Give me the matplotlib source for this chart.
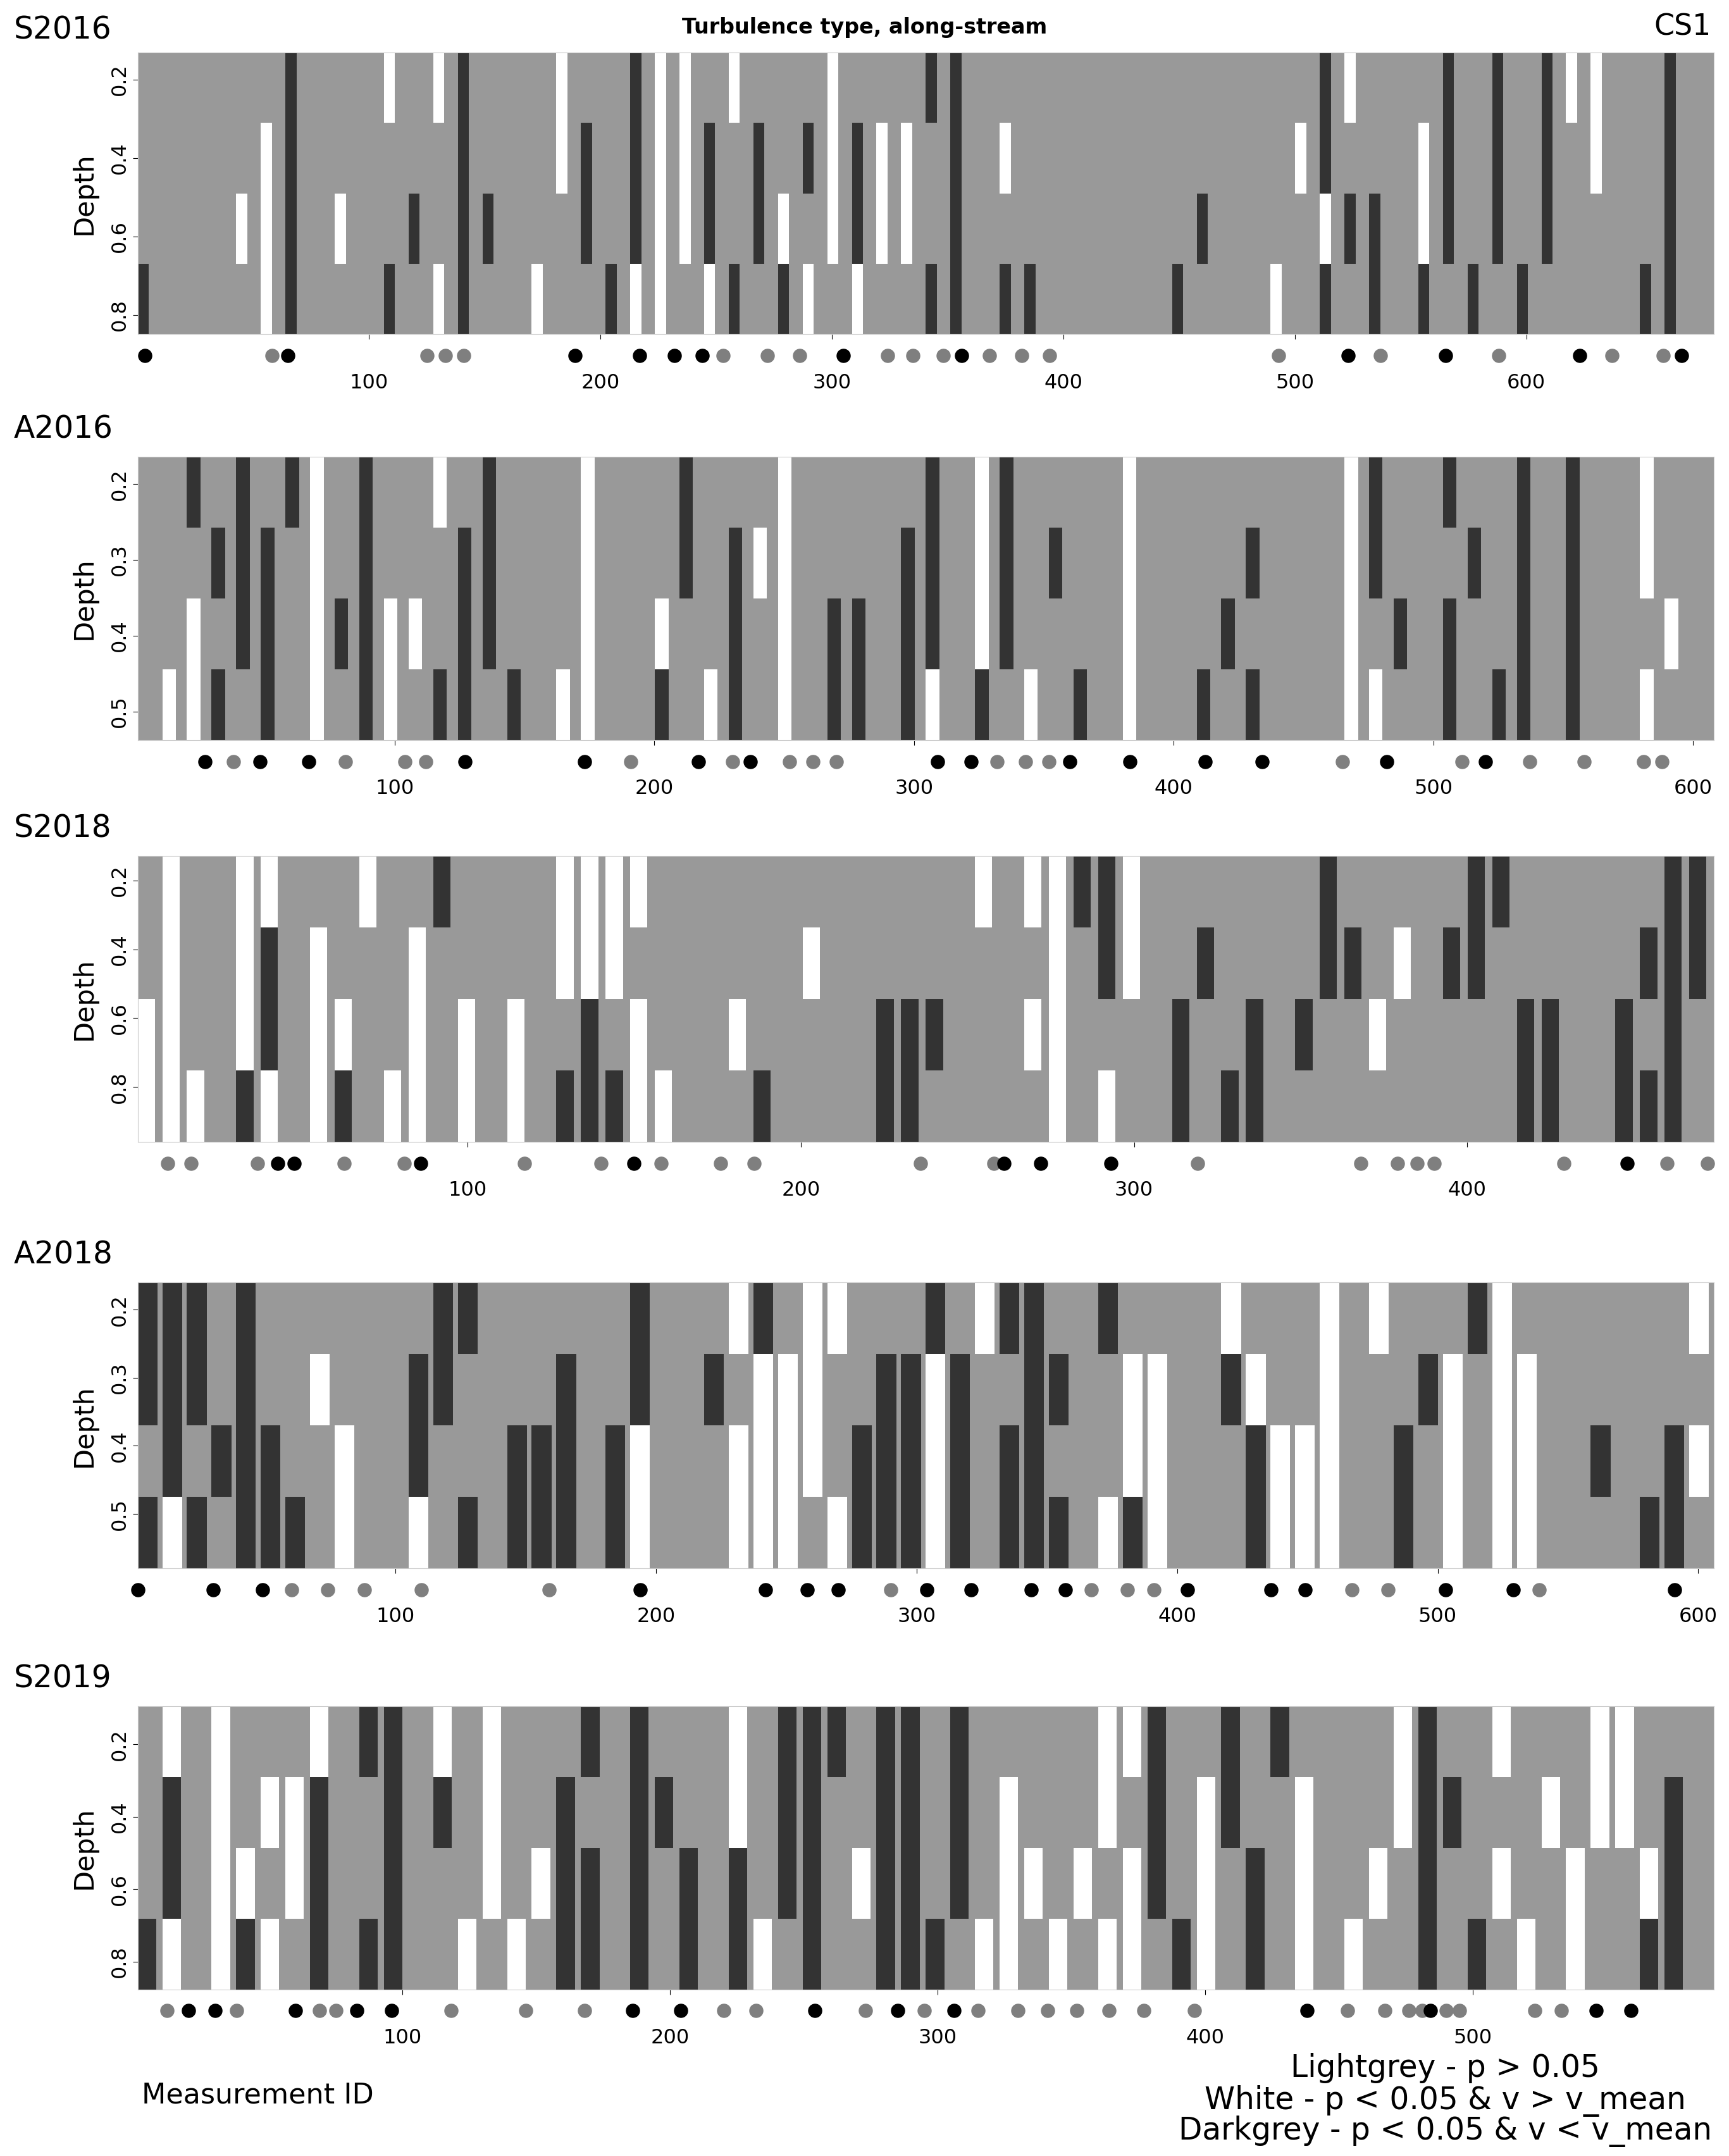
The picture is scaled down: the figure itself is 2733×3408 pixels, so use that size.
import numpy as np
import matplotlib
matplotlib.use("Agg")
import matplotlib.pyplot as plt
from matplotlib.colors import ListedColormap
import matplotlib.transforms as mtransforms

names = ["S2016", "A2016", "S2018", "A2018", "S2019"]
x_limits = [(0, 681), (1, 608), (1, 474), (1, 606), (1, 590)]
depth_limits = [(0.13, 0.85), (0.164, 0.538), (0.128, 0.96), (0.16, 0.58), (0.094, 0.877)]
depth_ticks = [[0.2, 0.4, 0.6, 0.8], [0.2, 0.3, 0.4, 0.5], [0.2, 0.4, 0.6, 0.8],
               [0.2, 0.3, 0.4, 0.5], [0.2, 0.4, 0.6, 0.8]]
x_ticks = [[100, 200, 300, 400, 500, 600], [100, 200, 300, 400, 500, 600],
           [100, 200, 300, 400], [100, 200, 300, 400, 500, 600], [100, 200, 300, 400, 500]]

# turbulence type per coarse column block, 4 depth bands (top -> bottom)
# g = lightgrey (p > 0.05), w = white (v > v_mean), d = darkgrey (v < v_mean)
types_s2016 = [
    "ggggggdgggwgwdgggwggdwwgwgggwgggddggggggggggggggdwgggdgdgdwwggdg",
    "gggggwdggggggdgggwdgdwwdgdgdwdwwgdgwgggggggggggwdgggwdgdgdgwggdg",
    "ggggwwdgwggdgddgggdgdwwdgdwgwdwwgdgggggggggdggggwddgwdgdgdggggdg",
    "dggggwdgggdgwdggwggdwwgwdgdwgwggddgddgggggdgggwgdgdgdgdgdggggddg",
]
types_a2016 = [
    "ggdgdgdwgdggwgdgggwgggdgggwgggggdgwdggggwggggggggwdggdggdgdggwgg",
    "gggdddgwgdgggddgggwgggdgdwwggggddgwdgdggwggggdgggwdgggdgdgdggwgg",
    "ggwgddgwddwwgddgggwggwggdgwgddgddgwdggggwgggdggggwgdgdggdgdgggwg",
    "gwwdgdgwgdwgddgdgwwggdgwdgwgddgdwgdgwgdgwggdgdgggwwggdgddgdggwgg",
]
types_s2018 = [
    "gwggwwgggwggdggggwwwwgggggggggggggwgwwddwgggggggdgggggddggggggddgd",
    "gwggwdgwgggwgggggwwwgggggggwgggggggggwgdwggdggggddgwgddggggggdddd",
    "wwggwdgwwggwgwgwggdgwgggwgggggdddgggwwggggdggdgdggwgggggddggdgdg",
    "wwwgdwgwdgwwgwgwgdddwwgggdggggddgggggwgwggdgddggggggggggddggdddgd",
]
types_a2018 = [
    "dddgdgggggggddggggggdgggwdgwwgggdgwddggdggggwgggwgwgggdwgggggggwdg",
    "dddgdggwgggddggggdggdggdgwwwggddwdggddggwwggdwggwgggdwgwwggggggg",
    "gdgdddggwggdgggdddgdwgggwwwwgdddwdgddgggwwgggdwwwggdgwgwwggdggdw",
    "dwdgdddgwggwgdgdddgdwgggwwwgwdddwdgdddgwdwgggdwwwggdgwgwwggggddg",
]
types_s2019 = [
    "gwgwgggwgddgwgwgggdgdgggwgdddgddgdgggggwwdggdgdggggwdggwgggwwggg",
    "gdgwgwwdggdgdgwggdggddggwgddggddgdgwgggwgdgwdggwgggwddgggwgwwgdg",
    "gdgwwgwdggdgggwgwddgdgdgdgddgwddgdgwwgwgwdgwgdgwggwgdggwggwggwdg",
    "dwgwdwgdgddggwgwgddgdgdgdwgdggdddgwwgwgwwgdwgdgwgwggdgdgwgwggddg",
]
all_types = [types_s2016, types_a2016, types_s2018, types_a2018, types_s2019]

# marked measurements below each panel
black_ids = [
    [3, 65, 189, 217, 232, 244, 305, 356, 523, 565, 623, 667],
    [27, 48, 67, 127, 173, 217, 237, 309, 322, 360, 383, 412, 434, 482, 520],
    [43, 48, 86, 150, 261, 272, 293, 448],
    [1, 30, 49, 194, 242, 258, 270, 304, 321, 344, 357, 404, 436, 449, 503, 529, 591],
    [20, 30, 60, 83, 96, 186, 204, 254, 285, 306, 438, 484, 546, 559],
]
grey_ids = [
    [58, 125, 133, 141, 253, 272, 286, 324, 335, 348, 368, 382, 394, 493, 537, 588, 637, 659],
    [38, 81, 104, 112, 191, 230, 252, 261, 270, 332, 343, 352, 465, 511, 537, 558, 581, 588],
    [10, 17, 37, 63, 81, 117, 140, 158, 176, 186, 236, 258, 319, 368, 379, 385, 390, 429, 460, 472],
    [60, 74, 88, 110, 159, 290, 367, 381, 391, 467, 481, 539],
    [12, 38, 69, 75, 118, 146, 168, 220, 232, 273, 295, 315, 330, 341, 352, 364, 377, 396,
     453, 467, 476, 481, 490, 495, 523, 533],
]

code = {"g": 0, "w": 1, "d": 2}
cmap = ListedColormap(["#999999", "#ffffff", "#333333"])
ncols = 64
streaks = [0.45, 0.55, 0.7, 0.8, 0.75]  # share of each block drawn, rest stays lightgrey

W, H = 1256, 1567
panel_y = [(38, 243), (332, 538), (622, 830), (932, 1140), (1240, 1446)]
label_y = [22, 312, 602, 912, 1220]

fig = plt.figure(figsize=(27.33, 34.08), dpi=100)

for i in range(5):
    top, bot = panel_y[i]
    ax = fig.add_axes([100 / W, 1 - bot / H, 1145 / W, (bot - top) / H])
    x0, x1 = x_limits[i]
    d0, d1 = depth_limits[i]
    rows = [r[:ncols].ljust(ncols, "g") for r in all_types[i]]
    grid = np.array([[code[c] for c in row] for row in rows])
    # interleave a lightgrey gap after each block so marks read as streaks
    full = np.zeros((grid.shape[0], ncols * 2), dtype=int)
    full[:, 0::2] = grid
    edges = np.linspace(x0, x1, ncols + 1)
    w = edges[1] - edges[0]
    xe = np.empty(ncols * 2 + 1)
    xe[0::2] = edges
    xe[1::2] = edges[:-1] + streaks[i] * w
    ye = np.linspace(d0, d1, grid.shape[0] + 1)
    ax.pcolormesh(xe, ye, full, cmap=cmap, vmin=0, vmax=2, shading="flat")
    ax.set_xlim(x0, x1)
    ax.set_ylim(d1, d0)
    ax.set_yticks(depth_ticks[i])
    ax.set_yticklabels([f"{t:.1f}" for t in depth_ticks[i]], rotation=90, va="center")
    ax.set_xticks(x_ticks[i])
    ax.tick_params(axis="x", labelsize=23, pad=38, length=6)
    ax.tick_params(axis="y", labelsize=23, length=6)
    ax.set_ylabel("Depth", fontsize=31, labelpad=14)
    for s in ax.spines.values():
        s.set_color("#cccccc")
    trans = mtransforms.blended_transform_factory(ax.transData, ax.transAxes)
    ax.scatter(grey_ids[i], [-0.075] * len(grey_ids[i]), s=230, color="#7f7f7f",
               transform=trans, clip_on=False, zorder=5)
    ax.scatter(black_ids[i], [-0.075] * len(black_ids[i]), s=230, color="black",
               transform=trans, clip_on=False, zorder=5)
    fig.text(10 / W, 1 - label_y[i] / H, names[i], fontsize=35, va="center", ha="left")

fig.text(0.5, 1 - 20 / H, "Turbulence type, along-stream", fontsize=24,
         fontweight="bold", ha="center", va="center")
fig.text(1243 / W, 1 - 20 / H, "CS1", fontsize=33, ha="right", va="center")
fig.text(103 / W, 1 - 1523 / H, "Measurement ID", fontsize=32, ha="left", va="center")
fig.text(1050 / W, 1 - 1503 / H, "Lightgrey - p > 0.05", fontsize=35, ha="center", va="center")
fig.text(1050 / W, 1 - 1527 / H, "White - p < 0.05 & v > v_mean", fontsize=35, ha="center", va="center")
fig.text(1050 / W, 1 - 1549 / H, "Darkgrey - p < 0.05 & v < v_mean", fontsize=35, ha="center", va="center")

fig.savefig("out.png", dpi=100, facecolor="white")
